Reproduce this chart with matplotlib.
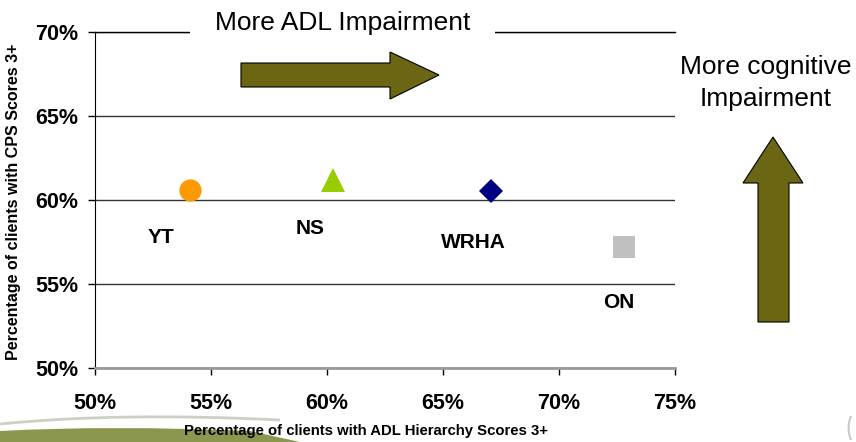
import matplotlib
matplotlib.use("Agg")
import matplotlib.pyplot as plt
from matplotlib.patches import Polygon, Rectangle
from matplotlib.path import Path
from matplotlib.patches import PathPatch

# ---- data ----
regions = ["YT", "NS", "WRHA", "ON"]
adl_pct = [54.1, 60.25, 67.05, 72.8]      # % clients with ADL Hierarchy 3+
cps_pct = [60.57, 61.2, 60.55, 57.2]      # % clients with CPS 3+
markers = ["o", "^", "D", "s"]
colors = ["#FF9900", "#99CC00", "#000080", "#C0C0C0"]
msizes = [16, 17, 12.2, 16]
label_offsets = [(-21, -34), (-16, -35), (-12, -37), (-4, -40)]  # points

xticks = [50, 55, 60, 65, 70, 75]
yticks = [50, 55, 60, 65, 70]

W, H = 856, 442
plt.rcParams['font.family'] = ['Liberation Sans', 'DejaVu Sans']

fig = plt.figure(figsize=(W / 100, H / 100), dpi=100)
fig.patch.set_facecolor("white")

def fx(x):
    return x / W

def fy(y):
    return 1 - y / H

ax = fig.add_axes([fx(95), fy(368), (675 - 95) / W, (368 - 32) / H])
ax.set_xlim(50, 75)
ax.set_ylim(50, 70)
ax.set_xticks(xticks)
ax.set_yticks(yticks)
ax.set_xticklabels([f"{t}%" for t in xticks])
ax.set_yticklabels([f"{t}%" for t in yticks])
ax.tick_params(axis="both", direction="out", length=5, width=1, color="black",
               labelsize=15.5)
ax.tick_params(axis="x", pad=13)
ax.tick_params(axis="y", pad=7)
for lab in ax.get_xticklabels() + ax.get_yticklabels():
    lab.set_fontweight("bold")

ax.yaxis.grid(True, color="#333333", linewidth=1)
ax.set_axisbelow(True)
ax.spines["right"].set_visible(False)
ax.spines["top"].set_color("black")
ax.spines["top"].set_linewidth(1)
ax.spines["left"].set_color("black")
ax.spines["bottom"].set_color("#999999")
ax.spines["bottom"].set_linewidth(2)

for name, x, y, m, c, s, off in zip(regions, adl_pct, cps_pct, markers, colors,
                                    msizes, label_offsets):
    ax.plot([x], [y], marker=m, color=c, markersize=s, linestyle="none",
            markeredgewidth=0, clip_on=False, zorder=4)
    ax.annotate(name, (x, y), xytext=off, textcoords="offset points",
                ha="center", va="center", fontsize=15, fontweight="bold",
                color="black")

# axis labels
fig.text(fx(366), fy(431), "Percentage of clients with ADL Hierarchy Scores 3+",
         ha="center", va="center", fontsize=10.7, fontweight="bold")
fig.text(fx(14), fy(202), "Percentage of clients with CPS Scores 3+",
         ha="center", va="center", rotation=90, fontsize=11.5, fontweight="bold")

# white box interrupting top line + title text
fig.patches.append(Rectangle((fx(190), fy(37)), (495 - 190) / W, 10 / H,
                             transform=fig.transFigure, facecolor="white",
                             edgecolor="none", zorder=2))
fig.text(fx(343), fy(23), "More ADL Impairment", ha="center", va="center",
         fontsize=19, zorder=3)
fig.text(fx(766), fy(83), "More cognitive\nImpairment", ha="center",
         va="center", fontsize=19, linespacing=1.38, zorder=3)

olive = "#6B6614"
right_arrow = [(241, 63), (390, 63), (390, 52), (439, 75), (390, 99), (390, 87),
               (241, 87)]
up_arrow = [(758, 322), (758, 183), (743, 183), (773, 137), (803, 183),
            (789, 183), (789, 322)]
for pts in (right_arrow, up_arrow):
    fig.patches.append(Polygon([(fx(a), fy(b)) for a, b in pts], closed=True,
                               transform=fig.transFigure, facecolor=olive,
                               edgecolor="black", linewidth=0.8, zorder=5))

# decorative swoosh bottom-left
verts = [(fx(0), fy(442)), (fx(0), fy(431)), (fx(110), fy(425)),
         (fx(250), fy(431)), (fx(300), fy(442)), (fx(0), fy(442))]
codes = [Path.MOVETO, Path.LINETO, Path.CURVE3, Path.CURVE3, Path.LINETO,
         Path.CLOSEPOLY]
fig.patches.append(PathPatch(Path(verts, codes), transform=fig.transFigure,
                             facecolor="#7E8C3C", edgecolor="none", zorder=1,
                             alpha=0.9))
verts2 = [(fx(0), fy(424)), (fx(120), fy(412)), (fx(280), fy(420))]
fig.patches.append(PathPatch(Path(verts2, [Path.MOVETO, Path.CURVE3, Path.CURVE3]),
                             transform=fig.transFigure, facecolor="none",
                             edgecolor="#C9D1C4", linewidth=2, zorder=1))
verts3 = [(fx(851), fy(416)), (fx(846), fy(428)), (fx(851), fy(440))]
fig.patches.append(PathPatch(Path(verts3, [Path.MOVETO, Path.CURVE3, Path.CURVE3]),
                             transform=fig.transFigure, facecolor="none",
                             edgecolor="#C8C8C8", linewidth=1.5, zorder=1))

fig.savefig("out.png", dpi=100)
